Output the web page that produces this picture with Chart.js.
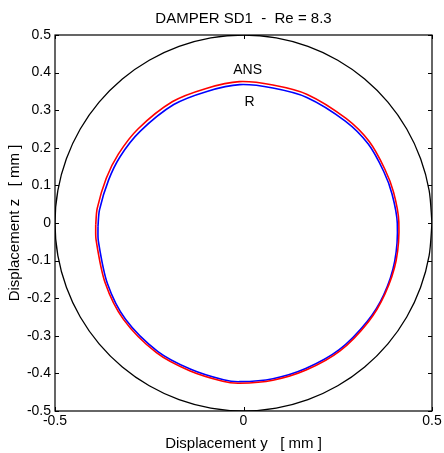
<!DOCTYPE html>
<html>
<head>
<meta charset="utf-8">
<script src="https://cdn.jsdelivr.net/npm/chart.js@4/dist/chart.umd.min.js"></script>
<style>
  body { margin: 0; background: #fff; }
  canvas { display: block; }
</style>
</head>
<body>
<canvas id="orbitChart" width="444" height="453"></canvas>
<script>
// bearing clearance circle (r = 0.5 mm)
const clearY = [0.5, 0.4924, 0.4698, 0.4330, 0.3830, 0.3214, 0.25, 0.1710, 0.0868, 0, -0.0868, -0.1710, -0.25, -0.3214, -0.3830, -0.4330, -0.4698, -0.4924, -0.5, -0.4924, -0.4698, -0.4330, -0.3830, -0.3214, -0.25, -0.1710, -0.0868, 0, 0.0868, 0.1710, 0.25, 0.3214, 0.3830, 0.4330, 0.4698, 0.4924, 0.5];
const clearZ = [0, 0.0868, 0.1710, 0.25, 0.3214, 0.3830, 0.4330, 0.4698, 0.4924, 0.5, 0.4924, 0.4698, 0.4330, 0.3830, 0.3214, 0.25, 0.1710, 0.0868, 0, -0.0868, -0.1710, -0.25, -0.3214, -0.3830, -0.4330, -0.4698, -0.4924, -0.5, -0.4924, -0.4698, -0.4330, -0.3830, -0.3214, -0.25, -0.1710, -0.0868, 0];

// ANS orbit
const ansY = [-0.392, -0.388, -0.364, -0.332, -0.280, -0.188, -0.099, -0.011, 0.078, 0.169, 0.272, 0.334, 0.375, 0.398, 0.412, 0.405, 0.375, 0.331, 0.256, 0.166, 0.078, -0.011, -0.055, -0.143, -0.231, -0.318, -0.367, -0.391, -0.392];
const ansZ = [-0.005, 0.039, 0.119, 0.183, 0.250, 0.323, 0.358, 0.376, 0.367, 0.342, 0.278, 0.216, 0.143, 0.082, 0.003, -0.099, -0.189, -0.263, -0.340, -0.391, -0.418, -0.426, -0.421, -0.393, -0.345, -0.257, -0.159, -0.045, -0.005];

// R orbit
const rY = [-0.386, -0.382, -0.358, -0.327, -0.275, -0.185, -0.097, -0.010, 0.078, 0.168, 0.270, 0.331, 0.372, 0.394, 0.408, 0.401, 0.372, 0.328, 0.254, 0.165, 0.078, -0.010, -0.053, -0.140, -0.227, -0.313, -0.361, -0.385, -0.386];
const rZ = [-0.009, 0.035, 0.114, 0.177, 0.243, 0.315, 0.350, 0.368, 0.359, 0.334, 0.271, 0.210, 0.137, 0.077, -0.001, -0.102, -0.191, -0.262, -0.337, -0.387, -0.414, -0.422, -0.417, -0.389, -0.342, -0.256, -0.161, -0.048, -0.009];

const xTicks = [-0.5, 0, 0.5];
const yTicks = [-0.5, -0.4, -0.3, -0.2, -0.1, 0, 0.1, 0.2, 0.3, 0.4, 0.5];

const curveLabels = [
  { text: 'ANS', y: 0.011, z: 0.396 },
  { text: 'R', y: 0.016, z: 0.311 }
];

const FONT = '"Liberation Sans", Arial, sans-serif';

function toPoints(ys, zs) {
  return ys.map((y, i) => ({ x: y, y: zs[i] }));
}

// matlab style box with inward ticks, title and curve labels
const boxPlugin = {
  id: 'box',
  afterDraw(chart) {
    const { ctx, chartArea: a, scales } = chart;
    const tl = 4;
    ctx.save();
    ctx.strokeStyle = '#000';
    ctx.lineWidth = 1.2;
    ctx.strokeRect(a.left, a.top, a.right - a.left, a.bottom - a.top);
    ctx.lineWidth = 1;
    ctx.beginPath();
    xTicks.forEach(v => {
      const px = Math.round(scales.x.getPixelForValue(v)) + 0.5;
      ctx.moveTo(px, a.bottom); ctx.lineTo(px, a.bottom - tl);
      ctx.moveTo(px, a.top); ctx.lineTo(px, a.top + tl);
    });
    yTicks.forEach(v => {
      const py = Math.round(scales.y.getPixelForValue(v)) + 0.5;
      ctx.moveTo(a.left, py); ctx.lineTo(a.left + tl, py);
      ctx.moveTo(a.right, py); ctx.lineTo(a.right - tl, py);
    });
    ctx.stroke();

    ctx.fillStyle = '#000';
    ctx.textAlign = 'center';
    ctx.textBaseline = 'alphabetic';
    ctx.font = '15px ' + FONT;
    ctx.fillText('DAMPER SD1  -  Re = 8.3', (a.left + a.right) / 2, 23);
    ctx.font = '14px ' + FONT;
    curveLabels.forEach(l => {
      ctx.fillText(l.text, scales.x.getPixelForValue(l.y), scales.y.getPixelForValue(l.z));
    });
    ctx.restore();
  }
};

new Chart(document.getElementById('orbitChart'), {
  type: 'scatter',
  data: {
    datasets: [
      { data: toPoints(clearY, clearZ), borderColor: '#000', borderWidth: 1.3, tension: 0.3 },
      { data: toPoints(ansY, ansZ), borderColor: '#ff0000', borderWidth: 1.6, tension: 0.3 },
      { data: toPoints(rY, rZ), borderColor: '#0000ff', borderWidth: 1.6, tension: 0.3 }
    ].map(d => Object.assign(d, { showLine: true, pointRadius: 0, fill: false }))
  },
  options: {
    responsive: false,
    animation: false,
    events: [],
    layout: { padding: { top: 35, right: 12, left: 0, bottom: 0 } },
    plugins: { legend: { display: false }, tooltip: { enabled: false } },
    scales: {
      x: {
        type: 'linear', min: -0.5, max: 0.5,
        grid: { display: false, drawTicks: false },
        border: { display: false },
        afterBuildTicks: s => { s.ticks = xTicks.map(v => ({ value: v })); },
        afterFit: s => { s.height = 42; },
        ticks: {
          color: '#000', padding: 2, maxRotation: 0, autoSkip: false,
          font: { family: FONT, size: 14 },
          callback: v => String(+v.toFixed(1))
        },
        title: {
          display: true, text: 'Displacement y   [ mm ]', color: '#000',
          font: { family: FONT, size: 15 }, padding: { top: 6, bottom: 0 }
        }
      },
      y: {
        type: 'linear', min: -0.5, max: 0.5,
        grid: { display: false, drawTicks: false },
        border: { display: false },
        afterBuildTicks: s => { s.ticks = yTicks.map(v => ({ value: v })); },
        afterFit: s => { s.width = 55; },
        ticks: {
          color: '#000', padding: 4, autoSkip: false,
          font: { family: FONT, size: 14 },
          callback: v => String(+v.toFixed(1))
        },
        title: {
          display: true, text: 'Displacement z   [ mm ]', color: '#000',
          font: { family: FONT, size: 15 }, padding: { top: 6, bottom: 0 }
        }
      }
    }
  },
  plugins: [boxPlugin]
});
</script>
</body>
</html>
